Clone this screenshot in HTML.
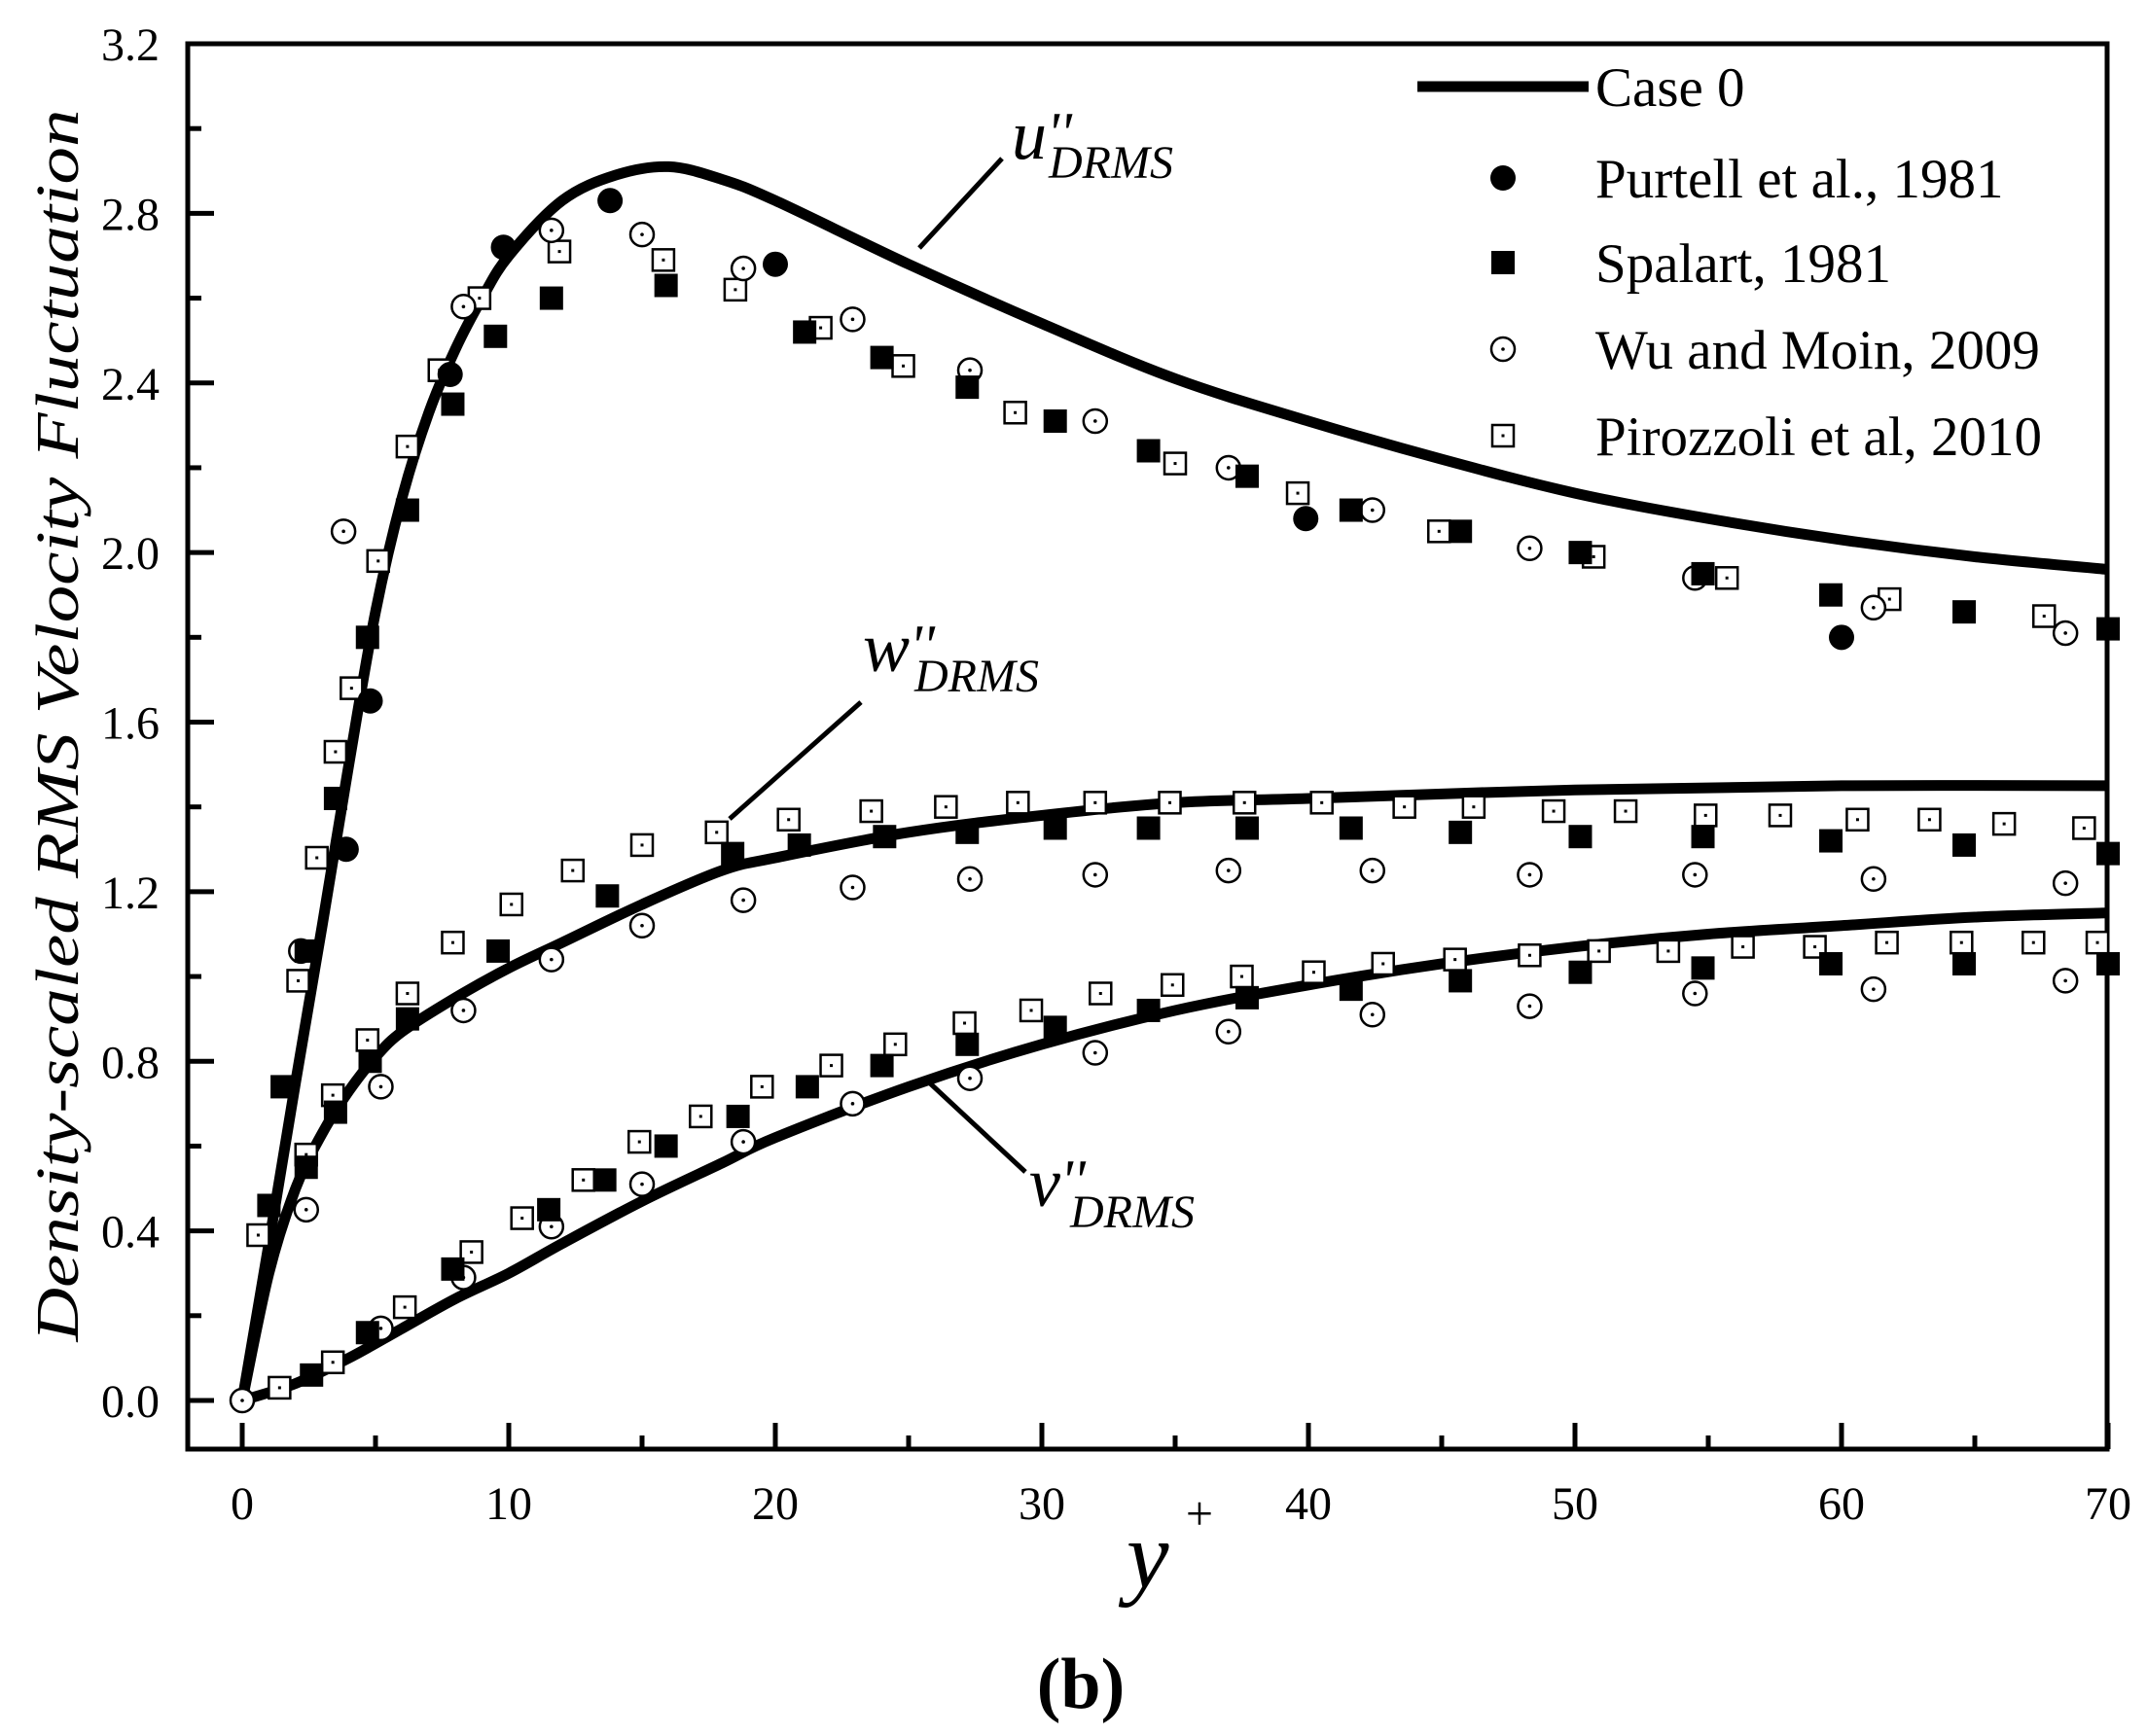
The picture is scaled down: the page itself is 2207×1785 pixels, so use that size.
<!DOCTYPE html>
<html><head><meta charset="utf-8"><style>
html,body{margin:0;padding:0;background:#fff}
svg{display:block;font-family:"Liberation Serif",serif}
</style></head><body>
<svg id="chart" width="2207" height="1785" viewBox="0 0 2207 1785" xmlns="http://www.w3.org/2000/svg">
<g id="frame"></g>
<g id="curves"></g>
<g id="markers"></g>
<g id="ticks"></g>
<text transform="translate(80,746) rotate(-90)" text-anchor="middle" font-style="italic" font-size="62" textLength="1267" lengthAdjust="spacingAndGlyphs">Density-scaled RMS Velocity Fluctuation</text>
<text x="1158" y="1632" font-style="italic" font-size="98">y</text>
<text x="1233" y="1573" text-anchor="middle" font-size="50">+</text>
<text x="1111" y="1756" text-anchor="middle" font-weight="bold" font-size="74">(b)</text>
<g>
<line x1="945" y1="255" x2="1030" y2="163" stroke="#000" stroke-width="5"/>
<text x="1040" y="163" font-style="italic" font-size="72">u<tspan font-size="60" dy="-6">''</tspan></text>
<text x="1078" y="183" font-style="italic" font-size="48">DRMS</text>
</g>
<g>
<line x1="750" y1="842" x2="885" y2="722" stroke="#000" stroke-width="5"/>
<text x="887" y="690" font-style="italic" font-size="72">w<tspan font-size="60" dy="-6">''</tspan></text>
<text x="940" y="711" font-style="italic" font-size="48">DRMS</text>
</g>
<g>
<line x1="954" y1="1112" x2="1054" y2="1205" stroke="#000" stroke-width="5"/>
<text x="1058" y="1240" font-style="italic" font-size="72">v<tspan font-size="60" dy="-6">''</tspan></text>
<text x="1100" y="1262" font-style="italic" font-size="48">DRMS</text>
</g>
<g id="legend"></g>
</svg>
<script>
const NS="http://www.w3.org/2000/svg";
const xTicks=[0,10,20,30,40,50,60,70];
const yTicks=[0.0,0.4,0.8,1.2,1.6,2.0,2.4,2.8,3.2];
const uCurveX=[0,1,2,3,4,5,6,7,8,9,10,12,14,16,18,20,25,30,35,40,45,50,55,60,65,70];
const uCurveY=[0,0.37,0.75,1.12,1.5,1.86,2.13,2.33,2.48,2.6,2.7,2.83,2.89,2.91,2.88,2.83,2.68,2.54,2.41,2.31,2.22,2.14,2.08,2.03,1.99,1.96];
const wCurveX=[0,1,2,3,4,5,6,8,10,12,15,18,20,25,30,35,40,50,60,70];
const wCurveY=[0,0.3,0.5,0.63,0.73,0.81,0.87,0.95,1.02,1.08,1.17,1.25,1.28,1.34,1.38,1.41,1.42,1.44,1.45,1.45];
const vCurveX=[0,2,4,6,8,10,12,15,18,20,25,30,35,40,45,50,55,60,65,70];
const vCurveY=[0,0.04,0.1,0.17,0.24,0.3,0.37,0.47,0.56,0.62,0.74,0.84,0.92,0.98,1.03,1.07,1.1,1.12,1.14,1.15];
const purtellX=[3.9,4.8,7.8,9.8,13.8,20.0,39.9,60.0];
const purtellY=[1.30,1.65,2.42,2.72,2.83,2.68,2.08,1.80];
const spalartX=[1.5,2.4,3.5,4.7,6.2,7.9,9.5,11.6,15.9,21.1,24.0,27.2,30.5,34.0,37.7,41.6,45.7,50.2,54.8,59.6,64.6,70,
 1.0,2.4,3.5,4.8,6.2,9.6,13.7,18.4,20.9,24.1,27.2,30.5,34,37.7,41.6,45.7,50.2,54.8,59.6,64.6,70,
 2.6,4.7,7.9,11.5,13.6,15.9,18.6,21.2,24,27.2,30.5,34,37.7,41.6,45.7,50.2,54.8,59.6,64.6,70];
const spalartY=[0.74,1.06,1.42,1.80,2.10,2.35,2.51,2.60,2.63,2.52,2.46,2.39,2.31,2.24,2.18,2.10,2.05,2.00,1.95,1.90,1.86,1.82,
 0.46,0.55,0.68,0.80,0.90,1.06,1.19,1.29,1.31,1.33,1.34,1.35,1.35,1.35,1.35,1.34,1.33,1.33,1.32,1.31,1.29,
 0.06,0.16,0.31,0.45,0.52,0.60,0.67,0.74,0.79,0.84,0.88,0.92,0.95,0.97,0.99,1.01,1.02,1.03,1.03,1.03];
const wuX=[2.2,3.8,8.3,11.6,15,18.8,22.9,27.3,32,37,42.4,48.3,54.5,61.2,68.4,
 2.4,5.2,8.3,11.6,15,18.8,22.9,27.3,32,37,42.4,48.3,54.5,61.2,68.4,
 0,5.2,8.3,11.6,15,18.8,22.9,27.3,32,37,42.4,48.3,54.5,61.2,68.4];
const wuY=[1.06,2.05,2.58,2.76,2.75,2.67,2.55,2.43,2.31,2.20,2.10,2.01,1.94,1.87,1.81,
 0.45,0.74,0.92,1.04,1.12,1.18,1.21,1.23,1.24,1.25,1.25,1.24,1.24,1.23,1.22,
 0,0.17,0.29,0.41,0.51,0.61,0.70,0.76,0.82,0.87,0.91,0.93,0.96,0.97,0.99];
const piroX=[0.6,2.1,2.8,3.5,4.1,5.1,6.2,7.4,8.9,11.9,15.8,18.5,21.7,24.8,29,35,39.6,44.9,50.7,55.7,61.8,67.6,
 2.4,3.4,4.7,6.2,7.9,10.1,12.4,15,17.8,20.5,23.6,26.4,29.1,32,34.8,37.6,40.5,43.6,46.2,49.2,51.9,54.9,57.7,60.6,63.3,66.1,69.1,
 1.4,3.4,6.1,8.6,10.5,12.8,14.9,17.2,19.5,22.1,24.5,27.1,29.6,32.2,34.9,37.5,40.2,42.8,45.5,48.3,50.9,53.5,56.3,59,61.7,64.5,67.2,69.6];
const piroY=[0.39,0.99,1.28,1.53,1.68,1.98,2.25,2.43,2.60,2.71,2.69,2.62,2.53,2.44,2.33,2.21,2.14,2.05,1.99,1.94,1.89,1.85,
 0.58,0.72,0.85,0.96,1.08,1.17,1.25,1.31,1.34,1.37,1.39,1.40,1.41,1.41,1.41,1.41,1.41,1.40,1.40,1.39,1.39,1.38,1.38,1.37,1.37,1.36,1.35,
 0.03,0.09,0.22,0.35,0.43,0.52,0.61,0.67,0.74,0.79,0.84,0.89,0.92,0.96,0.98,1.00,1.01,1.03,1.04,1.05,1.06,1.06,1.07,1.07,1.08,1.08,1.08,1.08];
const legendLabels=["Case 0","Purtell et al., 1981","Spalart, 1981","Wu and Moin, 2009","Pirozzoli et al, 2010"];

const X0=193,X1=2166,Y0=45,Y1=1490;
function sx(v){return 249+v*(2167-249)/70;}
function sy(v){return 1440-v*(1440-45)/3.2;}
function mk(tag,attrs,parent){const e=document.createElementNS(NS,tag);for(const k in attrs)e.setAttribute(k,attrs[k]);parent.appendChild(e);return e;}

const frame=document.getElementById('frame');
const fr=mk('rect',{x:X0,y:Y0,width:X1-X0,height:Y1-Y0,fill:'none',stroke:'#000','stroke-width':5},frame);



const ticks=document.getElementById('ticks');
xTicks.forEach((t,i)=>{
  const x=sx(t);
  const l=mk('line',{x1:x,y1:Y1,x2:x,y2:Y1-27,stroke:'#000','stroke-width':5},ticks);
  
  
  if(i<xTicks.length-1){const m=mk('line',{x1:sx(t+5),y1:Y1,x2:sx(t+5),y2:Y1-14,stroke:'#000','stroke-width':5},ticks);
    
    }
  const tx=mk('text',{x:x,y:1562,'text-anchor':'middle','font-size':48},ticks);
  tx.textContent=String(t);
  
  
});
yTicks.forEach((t,i)=>{
  const y=sy(t);
  const l=mk('line',{x1:X0,y1:y,x2:X0+27,y2:y,stroke:'#000','stroke-width':5},ticks);
  
  
  if(i<yTicks.length-1){const m=mk('line',{x1:X0,y1:sy(t+0.2),x2:X0+14,y2:sy(t+0.2),stroke:'#000','stroke-width':5},ticks);
    
    }
  const tx=mk('text',{x:164,y:y+17,'text-anchor':'end','font-size':48},ticks);
  tx.textContent=t.toFixed(1);
  
  
});

function smoothPath(xs,ys){
  const p=xs.map((x,i)=>[sx(x),sy(ys[i])]);
  let d='M'+p[0][0]+','+p[0][1];
  for(let i=0;i<p.length-1;i++){
    const p0=p[Math.max(0,i-1)],p1=p[i],p2=p[i+1],p3=p[Math.min(p.length-1,i+2)];
    const c1=[p1[0]+(p2[0]-p0[0])/6,p1[1]+(p2[1]-p0[1])/6];
    const c2=[p2[0]-(p3[0]-p1[0])/6,p2[1]-(p3[1]-p1[1])/6];
    d+=` C${c1[0]},${c1[1]} ${c2[0]},${c2[1]} ${p2[0]},${p2[1]}`;
  }
  return d;
}
const curves=document.getElementById('curves');
[[uCurveX,uCurveY,'case0-u-curve'],[wCurveX,wCurveY,'case0-w-curve'],[vCurveX,vCurveY,'case0-v-curve']].forEach(c=>{
  const p=mk('path',{d:smoothPath(c[0],c[1]),fill:'none',stroke:'#000','stroke-width':11,'stroke-linejoin':'round'},curves);
  
  
});

const markers=document.getElementById('markers');
function filledCircle(x,y,g){return mk('circle',{cx:x,cy:y,r:13,fill:'#000'},g);}
function filledSquare(x,y,g){return mk('rect',{x:x-12,y:y-12,width:24,height:24,fill:'#000'},g);}
function openCircle(x,y,g){const e=mk('g',{},g);mk('circle',{cx:x,cy:y,r:12,fill:'#fff',stroke:'#000','stroke-width':2.5},e);mk('circle',{cx:x,cy:y,r:1.8,fill:'#000'},e);return e;}
function openSquare(x,y,g){const e=mk('g',{},g);mk('rect',{x:x-11,y:y-11,width:22,height:22,fill:'#fff',stroke:'#000','stroke-width':2.5},e);mk('rect',{x:x-1.5,y:y-1.5,width:3,height:3,fill:'#000'},e);return e;}
piroX.forEach((x,i)=>{const m=openSquare(sx(x),sy(piroY[i]),markers);
  
  });
wuX.forEach((x,i)=>{const m=openCircle(sx(x),sy(wuY[i]),markers);
  
  });
spalartX.forEach((x,i)=>{const m=filledSquare(sx(x),sy(spalartY[i]),markers);
  
  });
purtellX.forEach((x,i)=>{const m=filledCircle(sx(x),sy(purtellY[i]),markers);
  
  });

const legend=document.getElementById('legend');
const ly=[89,183,270,359,448];
legendLabels.forEach((lab,i)=>{
  const g=mk('g',{},legend);
  
  
  if(i===0) mk('line',{x1:1457,y1:ly[i],x2:1633,y2:ly[i],stroke:'#000','stroke-width':11},g);
  else if(i===1) filledCircle(1545,ly[i],g);
  else if(i===2) filledSquare(1545,ly[i],g);
  else if(i===3) openCircle(1545,ly[i],g);
  else openSquare(1545,ly[i],g);
  const t=mk('text',{x:1640,y:ly[i]+20,'font-size':57},g);
  t.textContent=lab;
});
</script>
</body></html>
